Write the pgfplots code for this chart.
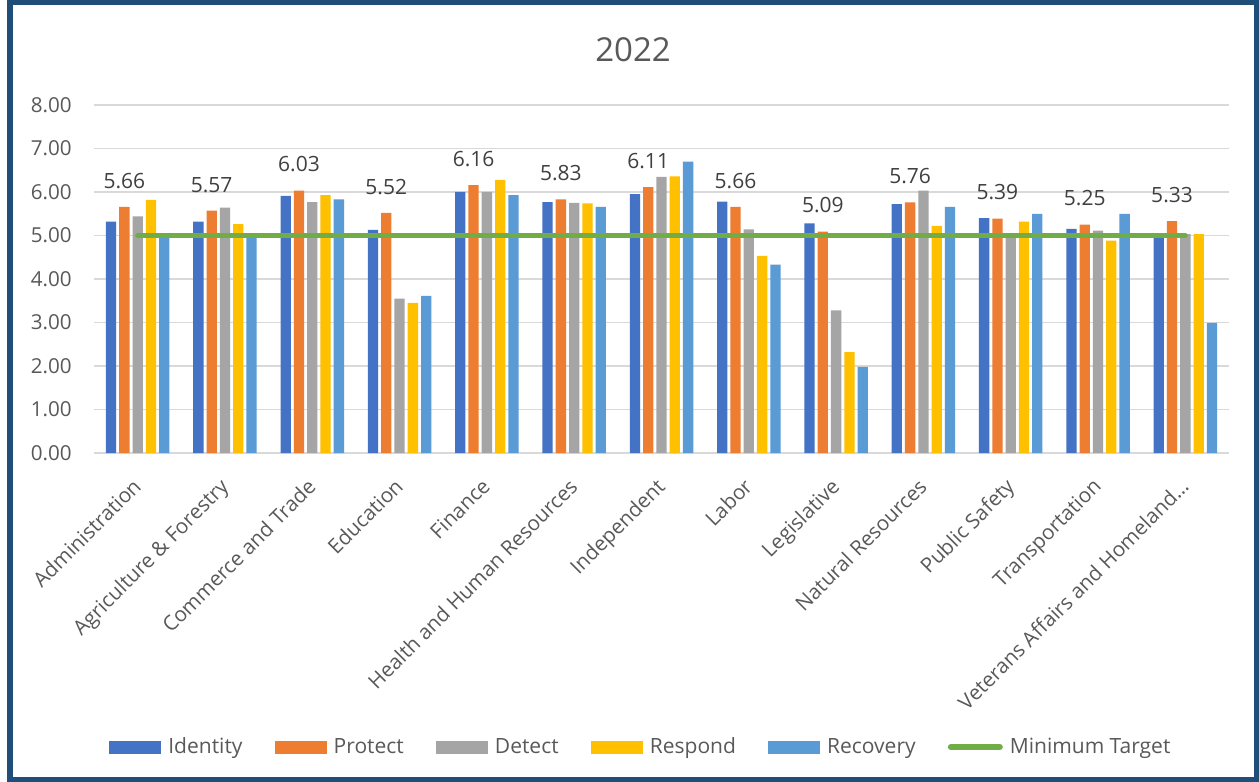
\documentclass[border=0pt]{standalone}
\usepackage{pgfplots}
\pgfplotsset{compat=1.18}
\usepackage{fontspec}
\setmainfont{Open Sans}
\definecolor{cIdent}{HTML}{4472C4}
\definecolor{cProt}{HTML}{ED7D31}
\definecolor{cDet}{HTML}{A5A5A5}
\definecolor{cResp}{HTML}{FFC000}
\definecolor{cRec}{HTML}{5B9BD5}
\definecolor{cGreen}{HTML}{70AD47}
\definecolor{frame}{HTML}{1F4E79}
\definecolor{tgray}{HTML}{595959}
\definecolor{lgray}{HTML}{404040}
\definecolor{gridc}{HTML}{D9D9D9}
\pgfplotsset{barleg/.style={legend image code/.code={\fill[#1] (0pt,-3.25pt) rectangle (26pt,3.25pt);}}}
\begin{document}
\begin{tikzpicture}
\useasboundingbox (0pt,0pt) rectangle (629.5pt,391pt);
\fill[white] (0pt,0pt) rectangle (629.5pt,391pt);
\draw[color=frame, line width=2.6pt] (5pt,1.2pt) rectangle (628.4pt,389.6pt);
\node[font=\fontsize{16.5}{20}\selectfont, text=tgray] at (316.5pt,366pt) {2022};
\begin{axis}[
  at={(47pt,164.5pt)}, anchor=south west,
  scale only axis, width=567.5pt, height=174pt,
  ybar=1.5pt, bar width=5.15pt,
  xmin=-0.5, xmax=12.5, ymin=0, ymax=8,
  xtick={0,...,12},
  xticklabels={Administration,Agriculture \& Forestry,Commerce and Trade,Education,Finance,Health and Human Resources,Independent,Labor,Legislative,Natural Resources,Public Safety,Transportation,Veterans Affairs and Homeland…},
  ytick={0,...,8},
  yticklabel={\pgfmathprintnumber[assume math mode=true,fixed,fixed zerofill,precision=2]{\tick}},
  ymajorgrids, grid style={color=gridc, line width=0.9pt},
  axis line style={draw=none}, major tick length=0pt,
  tick label style={font=\fontsize{10.3}{12}\selectfont, text=tgray},
  /pgf/number format/assume math mode=true,
  yticklabel style={anchor=east, inner sep=0pt, xshift=-11pt},
  xticklabel style={rotate=45, anchor=north east, inner sep=0pt, xshift=-10.6pt, yshift=-6.1pt},
  legend columns=6,
  legend style={at={(0.0132,-0.845)}, anchor=west, draw=none, fill=none, inner sep=0pt,
    font=\fontsize{10.5}{12}\selectfont, text=tgray,
    nodes={inner sep=0.5pt},
    /tikz/every odd column/.append style={column sep=3pt},
    /tikz/every even column/.append style={column sep=15.6pt}},
]
\addplot[fill=cIdent, draw=none, barleg=cIdent] coordinates {
(0,5.32) (1,5.32) (2,5.91) (3,5.13) (4,6.00) (5,5.77) (6,5.95) (7,5.78) (8,5.28) (9,5.72) (10,5.40) (11,5.15) (12,4.97)};
\addlegendentry{Identity}
\addplot[fill=cProt, draw=none, barleg=cProt,
  nodes near coords={\pgfmathprintnumber[assume math mode=true,fixed,fixed zerofill,precision=2]{\pgfplotspointmeta}},
  nodes near coords style={font=\fontsize{10.5}{12}\selectfont, text=lgray, anchor=south, inner sep=0pt, yshift=9pt}] coordinates {
(0,5.66) (1,5.57) (2,6.03) (3,5.52) (4,6.16) (5,5.83) (6,6.11) (7,5.66) (8,5.09) (9,5.76) (10,5.39) (11,5.25) (12,5.33)};
\addlegendentry{Protect}
\addplot[fill=cDet, draw=none, barleg=cDet] coordinates {
(0,5.44) (1,5.64) (2,5.77) (3,3.55) (4,6.00) (5,5.75) (6,6.35) (7,5.14) (8,3.28) (9,6.03) (10,4.97) (11,5.11) (12,5.03)};
\addlegendentry{Detect}
\addplot[fill=cResp, draw=none, barleg=cResp] coordinates {
(0,5.82) (1,5.26) (2,5.93) (3,3.45) (4,6.28) (5,5.74) (6,6.36) (7,4.53) (8,2.32) (9,5.22) (10,5.32) (11,4.88) (12,5.03)};
\addlegendentry{Respond}
\addplot[fill=cRec, draw=none, barleg=cRec] coordinates {
(0,4.95) (1,4.95) (2,5.83) (3,3.61) (4,5.93) (5,5.66) (6,6.70) (7,4.33) (8,1.98) (9,5.66) (10,5.50) (11,5.50) (12,2.99)};
\addlegendentry{Recovery}
\addplot[sharp plot, color=cGreen, line width=2.5pt, line cap=round, mark=none,
  legend image code/.code={\draw[cGreen, line width=3pt, line cap=round] (1.5pt,0pt) -- (26pt,0pt);}] coordinates {(0,5) (12,5)};
\addlegendentry{Minimum Target}
\end{axis}
\end{tikzpicture}
\end{document}
